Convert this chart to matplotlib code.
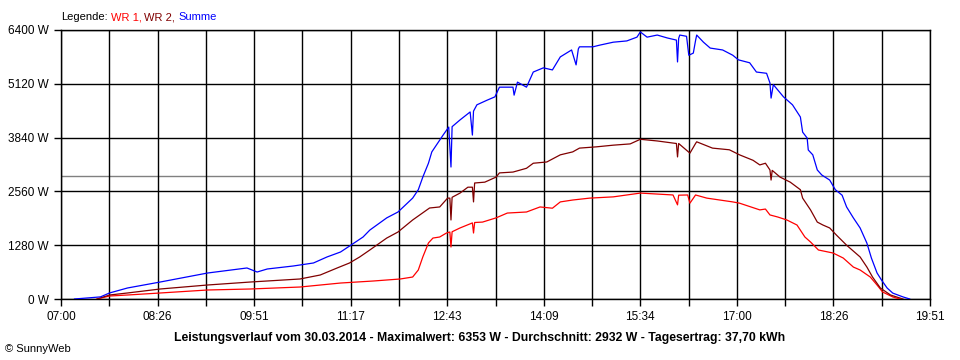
import numpy as np
import matplotlib.pyplot as plt

plt.rcParams['font.family'] = ['Liberation Sans', 'DejaVu Sans']

# Summe (blue)
sum_times = ['07:12', '07:35', '07:43', '07:59', '08:28', '09:10', '09:45', '09:54', '10:03', '10:26',
             '10:44', '10:56', '11:08', '11:16', '11:28', '11:34', '11:49', '11:59', '12:12', '12:17',
             '12:21', '12:26', '12:29', '12:39', '12:44', '12:46', '12:47', '12:54', '13:03', '13:05',
             '13:06', '13:09', '13:18', '13:25', '13:29', '13:41', '13:42', '13:45', '13:53', '13:59',
             '14:08', '14:16', '14:23', '14:33', '14:37', '14:39', '14:40', '14:52', '14:58', '15:10',
             '15:22', '15:31', '15:34', '15:40', '15:49', '15:58', '16:06', '16:07', '16:08', '16:09',
             '16:15', '16:17', '16:21', '16:23', '16:24', '16:30', '16:36', '16:47', '16:56', '17:01',
             '17:11', '17:17', '17:26', '17:29', '17:30', '17:32', '17:41', '17:49', '17:56', '17:58',
             '18:02', '18:03', '18:07', '18:11', '18:15', '18:22', '18:27', '18:33', '18:37', '18:43',
             '18:49', '18:55', '18:59', '19:04', '19:08', '19:13', '19:18', '19:27', '19:33']
sum_watts = [0, 50, 143, 262, 404, 618, 738, 642, 714, 785,
             857, 1000, 1118, 1260, 1475, 1640, 1930, 2070, 2400, 2600,
             2900, 3230, 3500, 3900, 4090, 3140, 4100, 4260, 4450, 3900,
             4470, 4620, 4730, 4810, 5040, 5040, 4850, 5160, 5040, 5400,
             5500, 5450, 5760, 5925, 5570, 5950, 6000, 6000, 6040, 6110,
             6140, 6230, 6353, 6230, 6280, 6210, 6160, 5640, 6200, 6280,
             6250, 5800, 5850, 6150, 6280, 6110, 5970, 5925, 5800, 5690,
             5620, 5400, 5370, 5140, 4780, 5100, 4810, 4620, 4330, 3970,
             3830, 3545, 3430, 3070, 2950, 2830, 2600, 2470, 2190, 1930,
             1690, 1330, 975, 620, 450, 260, 140, 50, 0]

# WR 2 (dark red)
wr2_times = ['07:32', '07:43', '07:59', '08:28', '09:10', '09:48', '10:32', '10:50', '11:05', '11:16',
             '11:25', '11:34', '11:49', '11:59', '12:12', '12:27', '12:36', '12:43', '12:45', '12:46',
             '12:47', '12:54', '13:01', '13:05', '13:06', '13:07', '13:16', '13:26', '13:29', '13:41',
             '13:53', '13:59', '14:11', '14:23', '14:34', '14:40', '14:55', '15:10', '15:25', '15:34',
             '15:49', '16:03', '16:06', '16:07', '16:08', '16:18', '16:23', '16:24', '16:38', '16:53',
             '17:02', '17:14', '17:20', '17:25', '17:29', '17:30', '17:31', '17:38', '17:47', '17:56',
             '17:58', '18:05', '18:11', '18:16', '18:22', '18:28', '18:37', '18:49', '18:55', '19:00',
             '19:07', '19:16', '19:27']
wr2_watts = [0, 95, 143, 238, 333, 404, 476, 571, 738, 857,
             1000, 1166, 1450, 1594, 1880, 2165, 2190, 2400, 2400, 1880,
             2420, 2520, 2660, 2660, 2310, 2760, 2780, 2900, 3000, 3020,
             3110, 3230, 3260, 3430, 3500, 3590, 3620, 3660, 3690, 3800,
             3760, 3710, 3700, 3380, 3700, 3470, 3700, 3740, 3590, 3550,
             3430, 3300, 3190, 3230, 3070, 2830, 3060, 2900, 2780, 2600,
             2400, 2120, 1830, 1760, 1690, 1520, 1280, 1000, 760, 523,
             260, 95, 0]

# WR 1 (red)
wr1_times = ['07:32', '07:43', '07:59', '08:28', '09:10', '09:48', '10:32', '11:08', '11:37', '12:01',
             '12:12', '12:17', '12:21', '12:26', '12:30', '12:36', '12:42', '12:45', '12:46', '12:47',
             '12:54', '13:05', '13:06', '13:07', '13:14', '13:26', '13:36', '13:53', '14:05', '14:16',
             '14:23', '14:34', '14:49', '15:10', '15:34', '16:03', '16:07', '16:08', '16:16', '16:18',
             '16:23', '16:33', '16:56', '17:02', '17:20', '17:25', '17:29', '17:36', '17:44', '17:53',
             '18:00', '18:05', '18:12', '18:25', '18:34', '18:43', '18:49', '18:58', '19:04', '19:09',
             '19:18', '19:24']
wr1_watts = [0, 71, 95, 143, 214, 238, 285, 380, 428, 476,
             523, 690, 1000, 1333, 1450, 1475, 1570, 1594, 1237, 1600,
             1690, 1810, 1570, 1820, 1830, 1930, 2045, 2070, 2190, 2160,
             2310, 2355, 2400, 2430, 2520, 2475, 2240, 2470, 2475, 2280,
             2475, 2400, 2310, 2280, 2120, 2140, 2000, 1950, 1880, 1760,
             1475, 1356, 1166, 1094, 975, 760, 690, 523, 333, 166,
             48, 0]

average = 2932
y_ticks = [0, 1280, 2560, 3840, 5120, 6400]
x_labels = ['07:00', '08:26', '09:51', '11:17', '12:43', '14:09', '15:34', '17:00', '18:26', '19:51']
day_span = 771  # minutes from 07:00 to 19:51
legend_parts = [('Legende:', 'black'), ('WR 1,', '#ff0000'), ('WR 2,', '#800000'), ('Summe', '#0000ff')]


def to_min(times):
    return [int(t[:2]) * 60 + int(t[3:]) - 7 * 60 for t in times]


fig = plt.figure(figsize=(9.6, 3.6), dpi=100)
ax = fig.add_axes([61 / 960, 61 / 360, 869 / 960, 269 / 360])

ax.axhline(average, color='#808080', lw=1.0, zorder=1)
ax.plot(to_min(wr1_times), wr1_watts, color='#ff0000', lw=0.9, zorder=3)
ax.plot(to_min(wr2_times), wr2_watts, color='#800000', lw=0.9, zorder=3)
ax.plot(to_min(sum_times), sum_watts, color='#0000ff', lw=0.9, zorder=3)

ax.set_xlim(0, day_span)
ax.set_ylim(0, 6400)
grid_x = np.linspace(0, day_span, 19)
ax.set_xticks(grid_x)
ax.set_xticklabels([x_labels[i // 2] if i % 2 == 0 else '' for i in range(19)])
ax.set_yticks(y_ticks)
ax.set_yticklabels([f'{v} W' for v in y_ticks])
ax.grid(True, color='black', lw=1.0, zorder=0)
for s in ax.spines.values():
    s.set_color('black')
    s.set_linewidth(1.0)
ax.tick_params(axis='both', direction='out', length=5, width=1.0, colors='black',
               labelsize=8.5, pad=4)

# coloured legend line at the top, each word placed after the previous one
renderer = fig.canvas.get_renderer()
lx = 61
ly = 1 - 17 / 360
for word, col in legend_parts:
    t = fig.text(lx / 960, ly, word, fontsize=8, va='center', color=col)
    lx = t.get_window_extent(renderer).x1 + 3

fig.text(480 / 960, 1 - 338 / 360,
         'Leistungsverlauf vom 30.03.2014 - Maximalwert: 6353 W - Durchschnitt: 2932 W - Tagesertrag: 37,70 kWh',
         fontsize=8.8, fontweight='bold', ha='center', va='center')
fig.text(5 / 960, 1 - 349 / 360, '© SunnyWeb', fontsize=8, va='center')

fig.savefig('out.png', dpi=100, facecolor='white')
